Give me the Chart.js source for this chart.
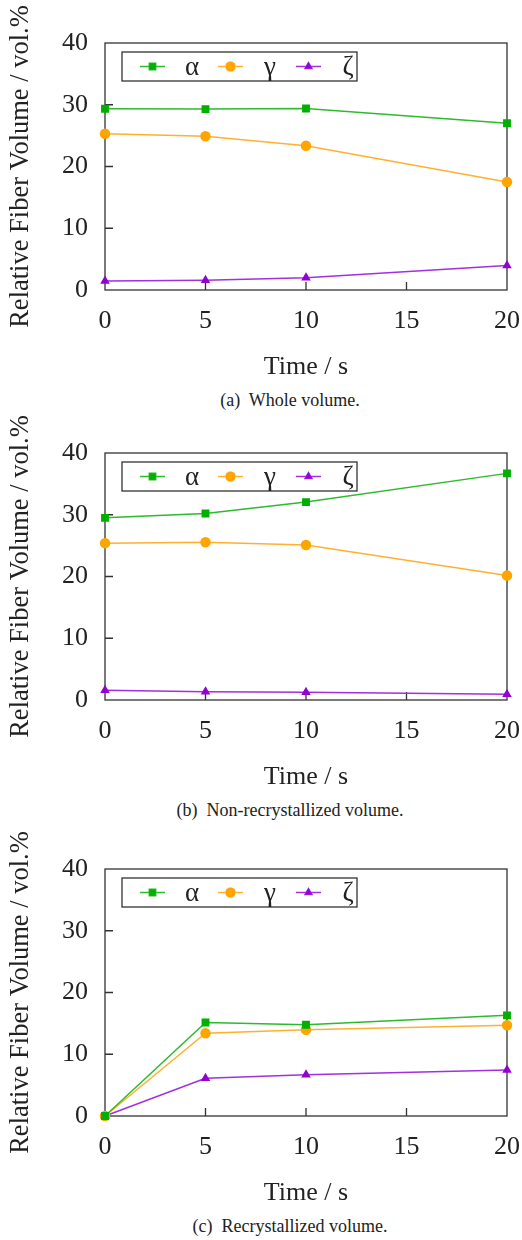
<!DOCTYPE html>
<html>
<head>
<meta charset="utf-8">
<script src="https://cdn.jsdelivr.net/npm/chart.js@4.4.1/dist/chart.umd.min.js"></script>
<style>
  html, body { margin: 0; padding: 0; background: #fff; }
  body { width: 522px; height: 1240px; position: relative; overflow: hidden; }
  .panel { position: absolute; left: 0; width: 522px; height: 385px; }
  .caption { position: absolute; left: 0; width: 580px; text-align: center;
    font-family: 'Liberation Serif', serif; font-size: 18px; line-height: 22px; color: #222; white-space: pre; }
</style>
</head>
<body>
<div class="panel" style="top:0px"><canvas id="chartA"></canvas></div>
<div class="caption" style="top:389px">(a)  Whole volume.</div>
<div class="panel" style="top:410px"><canvas id="chartB"></canvas></div>
<div class="caption" style="top:799px">(b)  Non-recrystallized volume.</div>
<div class="panel" style="top:826px"><canvas id="chartC"></canvas></div>
<div class="caption" style="top:1215px">(c)  Recrystallized volume.</div>
<script>
// time steps (s) and phase names
const times = [0, 5, 10, 20];
const phases = ['α', 'γ', 'ζ'];

// (a) whole volume
const wholeAlpha = [29.35, 29.3, 29.4, 27.0];
const wholeGamma = [25.3, 24.9, 23.35, 17.5];
const wholeZeta  = [1.46, 1.57, 2.0, 3.95];

// (b) non-recrystallized volume
const nonrexAlpha = [29.5, 30.2, 32.05, 36.7];
const nonrexGamma = [25.4, 25.55, 25.1, 20.15];
const nonrexZeta  = [1.57, 1.35, 1.25, 0.92];

// (c) recrystallized volume
const rexAlpha = [0, 15.15, 14.78, 16.3];
const rexGamma = [0, 13.4, 13.96, 14.7];
const rexZeta  = [0, 6.1, 6.7, 7.45];

const xTicks = [0, 5, 10, 15, 20];
const yTicks = [0, 10, 20, 30, 40];

const serif = 'Liberation Serif';
const ink = '#222';

const styles = [
  { line: '#2cbb2c', fill: '#00b000', point: 'rect', r: 4.5 },
  { line: '#ffb030', fill: '#ffa500', point: 'circle', r: 4.5 },
  { line: '#a030e0', fill: '#9400d3', point: 'triangle', r: 4 }
];

function makeSets(series) {
  return series.map((vals, i) => ({
    label: phases[i],
    data: vals.map((v, k) => ({ x: times[k], y: v })),
    borderColor: styles[i].line,
    backgroundColor: styles[i].fill,
    pointBackgroundColor: styles[i].fill,
    pointBorderColor: styles[i].fill,
    pointStyle: styles[i].point,
    pointRadius: styles[i].r,
    borderWidth: 1.5,
    tension: 0,
    clip: false
  }));
}

// frame box, inward ticks and the boxed legend
const framePlugin = {
  id: 'frame',
  beforeDatasetsDraw(chart) {
    const { ctx, chartArea: a, scales } = chart;
    ctx.save();
    ctx.strokeStyle = '#333';
    ctx.lineWidth = 1.3;
    ctx.strokeRect(a.left, a.top, a.right - a.left, a.bottom - a.top);
    ctx.beginPath();
    yTicks.slice(1, -1).forEach(v => {
      const y = scales.y.getPixelForValue(v);
      ctx.moveTo(a.left, y); ctx.lineTo(a.left + 8, y);
    });
    xTicks.slice(1, -1).forEach(v => {
      const x = scales.x.getPixelForValue(v);
      ctx.moveTo(x, a.bottom); ctx.lineTo(x, a.bottom - 8);
    });
    ctx.stroke();
    ctx.restore();
  },
  afterDatasetsDraw(chart) {
    const { ctx, chartArea: a } = chart;
    const bx = a.left + 17, by = a.top + 9, bw = 235, bh = 29;
    ctx.save();
    ctx.fillStyle = '#fff';
    ctx.fillRect(bx, by, bw, bh);
    ctx.strokeStyle = '#333';
    ctx.lineWidth = 1.3;
    ctx.strokeRect(bx, by, bw, bh);
    const cy = by + bh / 2;
    chart.data.datasets.forEach((ds, i) => {
      const x0 = bx + 18 + i * 78;
      ctx.strokeStyle = ds.borderColor;
      ctx.lineWidth = 1.5;
      ctx.beginPath();
      ctx.moveTo(x0, cy); ctx.lineTo(x0 + 25, cy);
      ctx.stroke();
      Chart.helpers.drawPoint(ctx, {
        pointStyle: ds.pointStyle, radius: ds.pointRadius, borderWidth: 1, rotation: 0
      }, x0 + 12.5, cy);
      ctx.fillStyle = ds.pointBackgroundColor;
      ctx.fill();
      ctx.fillStyle = ink;
      ctx.font = '27px "' + serif + '"';
      ctx.textAlign = 'center';
      ctx.textBaseline = 'middle';
      ctx.fillText(ds.label, x0 + 52, cy + 1);
    });
    ctx.restore();
  }
};

function makeChart(id, series) {
  return new Chart(document.getElementById(id), {
    type: 'line',
    data: { datasets: makeSets(series) },
    options: {
      responsive: true,
      maintainAspectRatio: false,
      animation: false,
      devicePixelRatio: 1,
      layout: { padding: { top: 43, right: 15, left: 0, bottom: 0 } },
      plugins: { legend: { display: false }, tooltip: { enabled: false } },
      scales: {
        x: {
          type: 'linear', min: 0, max: 20,
          afterBuildTicks: s => { s.ticks = xTicks.map(v => ({ value: v })); },
          afterFit: s => { s.height = 95; s.paddingLeft = 0; s.paddingRight = 0; },
          grid: { display: false, drawTicks: false },
          border: { display: false },
          ticks: { padding: 16, color: ink, font: { family: serif, size: 26 } },
          title: { display: true, text: 'Time / s', color: ink, padding: { top: 0, bottom: 2 },
            font: { family: serif, size: 26 } }
        },
        y: {
          min: 0, max: 40,
          afterBuildTicks: s => { s.ticks = yTicks.map(v => ({ value: v })); },
          afterFit: s => { s.width = 105; s.paddingTop = 0; s.paddingBottom = 0; },
          grid: { display: false, drawTicks: false },
          border: { display: false },
          ticks: { padding: 17, color: ink, font: { family: serif, size: 26 } },
          title: { display: true, text: 'Relative Fiber Volume / vol.%', color: ink, padding: 5,
            font: { family: serif, size: 26.5 } }
        }
      }
    },
    plugins: [framePlugin]
  });
}

makeChart('chartA', [wholeAlpha, wholeGamma, wholeZeta]);
makeChart('chartB', [nonrexAlpha, nonrexGamma, nonrexZeta]);
makeChart('chartC', [rexAlpha, rexGamma, rexZeta]);
</script>
</body>
</html>
